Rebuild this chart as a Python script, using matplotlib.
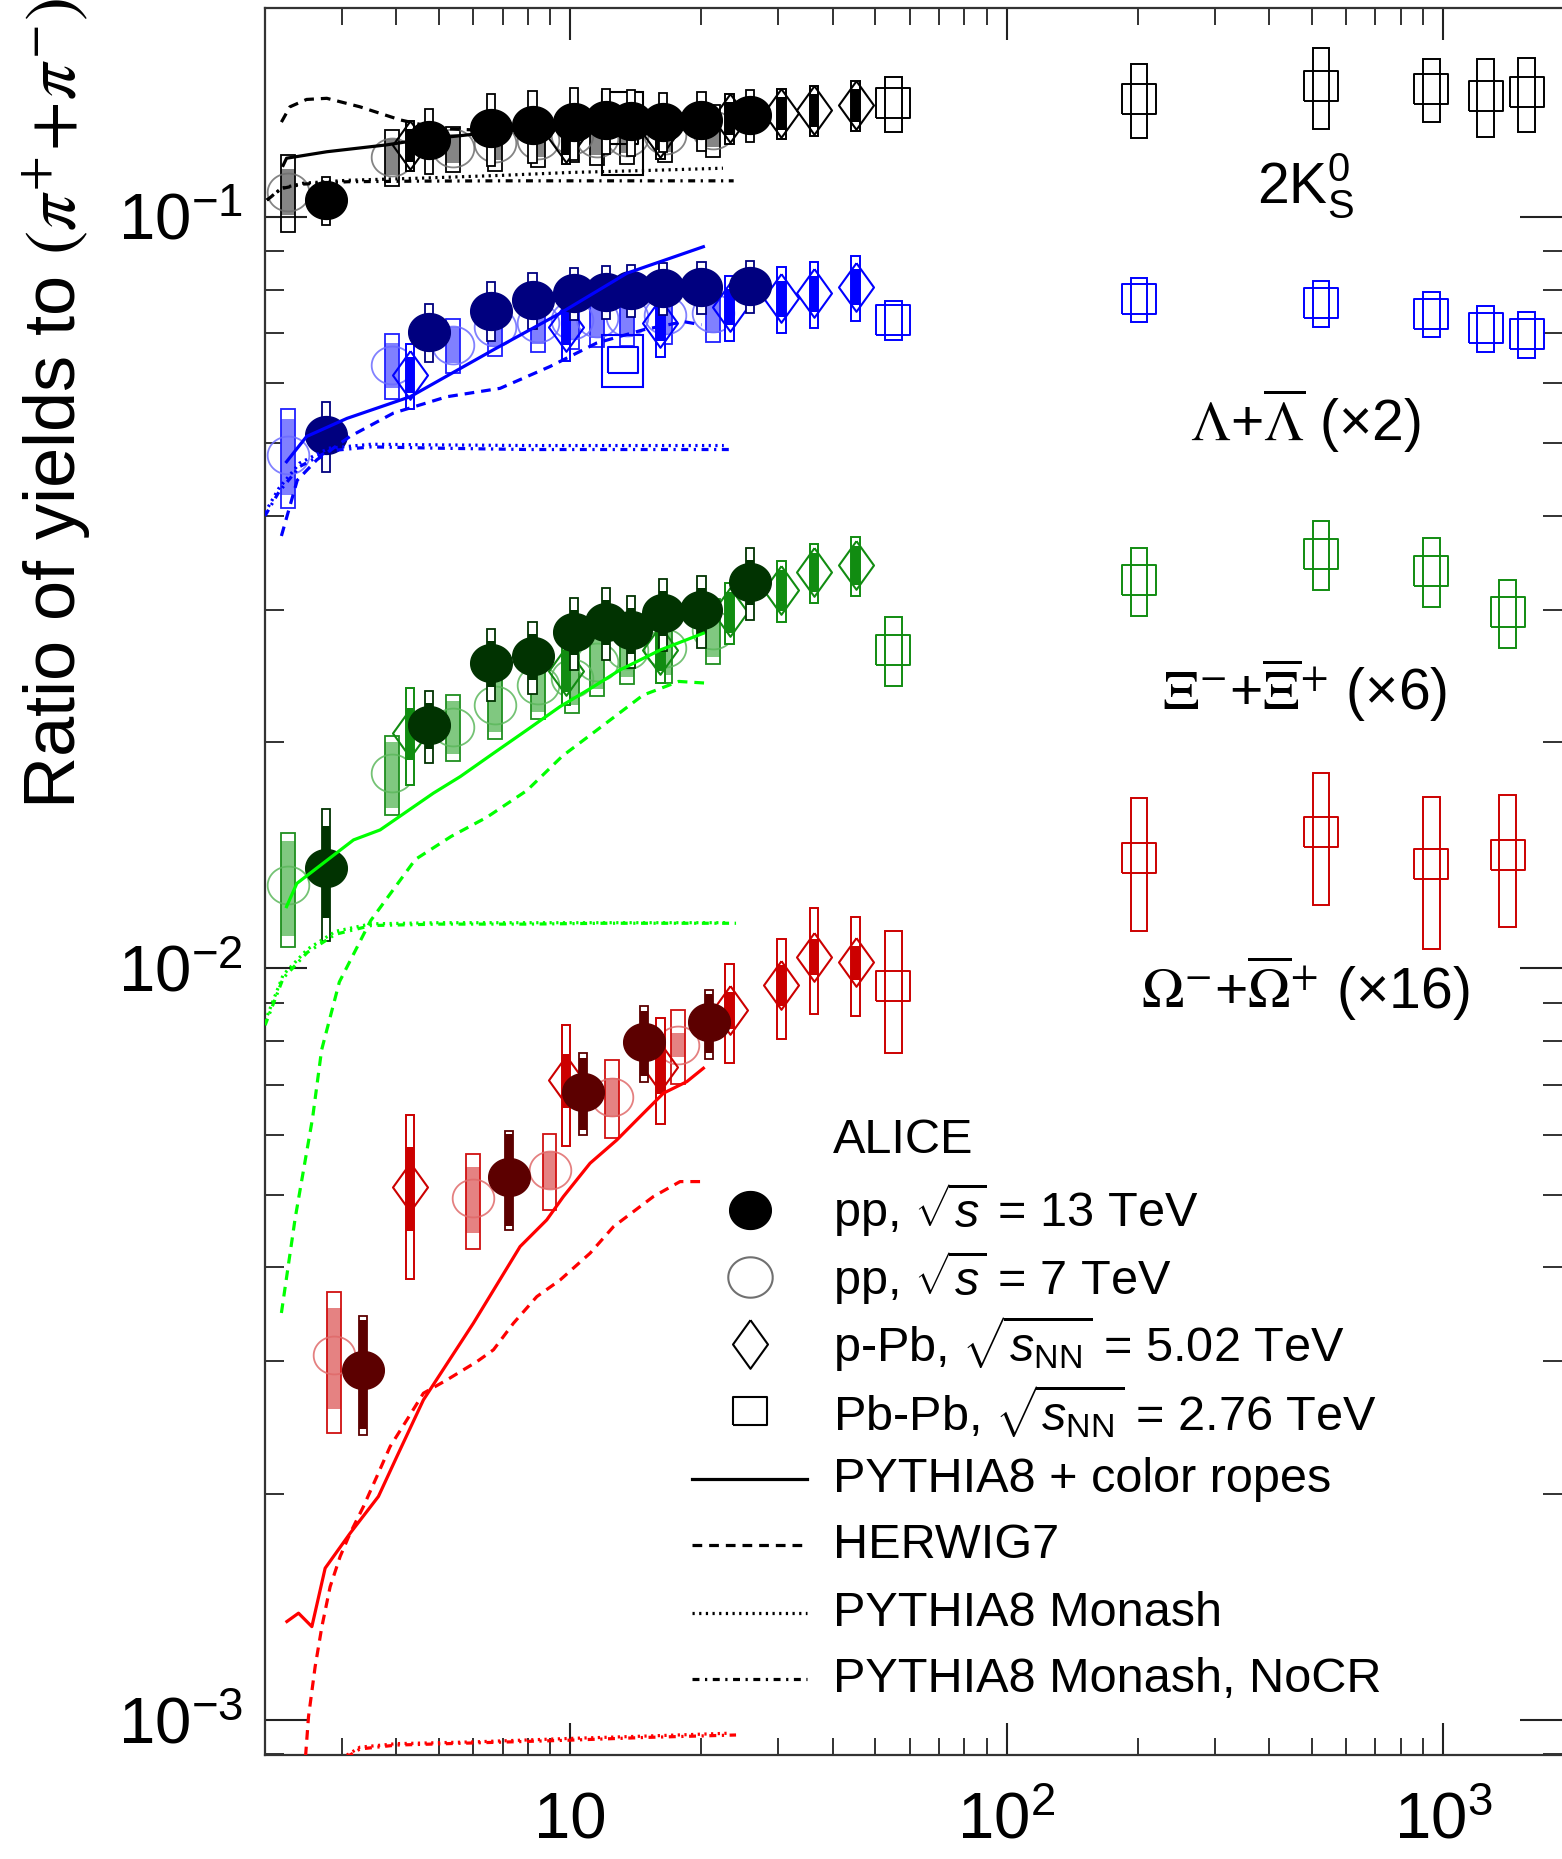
import numpy as np
import matplotlib
matplotlib.use('Agg')
import matplotlib.pyplot as plt
from matplotlib.patches import Rectangle
from matplotlib.path import Path
from matplotlib.ticker import FixedLocator, LogLocator, NullFormatter

plt.rcParams['font.family'] = ['Liberation Sans', 'DejaVu Sans']
plt.rcParams['mathtext.fontset'] = 'custom'
plt.rcParams['mathtext.rm'] = 'Liberation Sans'
plt.rcParams['mathtext.it'] = 'Liberation Sans:italic'
plt.rcParams['mathtext.bf'] = 'Liberation Sans:bold'
plt.rcParams['lines.scale_dashes'] = False

# ---------------- multiplicities <dNch/deta> ----------------
pp13_x = [2.76, 4.75, 6.58, 8.2, 10.2, 12.1, 13.8, 16.3, 20.0, 25.8]
pp7_x = [2.26, 3.90, 5.40, 6.72, 8.45, 10.1, 11.5, 13.5, 16.5, 21.3]
omega_pp13_x = [3.36, 7.26, 10.7, 14.8, 20.8]
omega_pp7_x = [2.88, 6.0, 8.97, 12.5, 17.7]
ppb_x = [4.3, 9.8, 16.1, 23.2, 30.5, 36.2, 45.1]
pbpb6_x = [55, 201, 525, 940, 1253, 1556]
pbpb5_x = [55, 201, 525, 940, 1406]
bigbox_x = [13.2]

# ---------------- 2K0S / (pi+ + pi-) ----------------
k0s_pp13 = [0.1052, 0.1265, 0.1311, 0.1324, 0.1338, 0.1345, 0.134, 0.1338, 0.1345, 0.1366]
k0s_pp13_sys = [0.074, 0.10, 0.11, 0.11, 0.11, 0.10, 0.10, 0.09, 0.09, 0.08]
k0s_pp13_unc = [0.04] * 10
k0s_pp7 = [0.108, 0.1202, 0.1233, 0.1252, 0.1265, 0.1284, 0.1272, 0.1278, 0.1284, 0.1304]
k0s_pp7_sys = [0.117, 0.085, 0.069, 0.08, 0.08, 0.08, 0.08, 0.08, 0.08, 0.08]
k0s_pp7_unc = [0.07, 0.055, 0.045, 0.05, 0.05, 0.05, 0.05, 0.05, 0.05, 0.05]
k0s_ppb = [0.1246, 0.1273, 0.1292, 0.1352, 0.1373, 0.1387, 0.1408]
k0s_ppb_sys = [0.077] * 7
k0s_ppb_unc = [0.05] * 7
k0s_pbpb = [0.1415, 0.1434, 0.1492, 0.1477, 0.1449, 0.1463]
k0s_pbpb_sys = [0.083, 0.113, 0.123, 0.096, 0.12, 0.113]
k0s_big = [0.130]
k0s_big_sys = [0.126]

# ---------------- Lambda (x2) ----------------
lam_pp13 = [0.0512, 0.0703, 0.0750, 0.0775, 0.0791, 0.0795, 0.0799, 0.0803, 0.0807, 0.0809]
lam_pp13_sys = [0.107, 0.088, 0.09, 0.085, 0.08, 0.08, 0.08, 0.08, 0.08, 0.08]
lam_pp13_unc = [0.05] * 10
lam_pp7 = [0.0482, 0.0635, 0.0675, 0.0714, 0.0721, 0.0729, 0.0733, 0.0736, 0.074, 0.0744]
lam_pp7_sys = [0.15, 0.10, 0.083, 0.085, 0.085, 0.085, 0.085, 0.085, 0.085, 0.085]
lam_pp7_unc = [0.116, 0.069, 0.055, 0.06, 0.06, 0.06, 0.06, 0.06, 0.06, 0.06]
lam_ppb = [0.0616, 0.0714, 0.0722, 0.0759, 0.0779, 0.0791, 0.0807]
lam_ppb_sys = [0.10] * 7
lam_ppb_unc = [0.055] * 7
lam_pbpb = [0.0729, 0.0776, 0.0768, 0.0743, 0.071, 0.0697]
lam_pbpb_sys = [0.06, 0.068, 0.07, 0.07, 0.07, 0.07]
lam_big = [0.0645]
lam_big_sys = [0.08]

# ---------------- Xi (x6) ----------------
xi_pp13 = [0.01358, 0.02108, 0.02546, 0.026, 0.02805, 0.02892, 0.0282, 0.02973, 0.02998, 0.03269]
xi_pp13_sys = [0.20, 0.11, 0.11, 0.11, 0.11, 0.11, 0.11, 0.11, 0.11, 0.11]
xi_pp13_unc = [0.14, 0.07, 0.07, 0.07, 0.07, 0.07, 0.07, 0.07, 0.07, 0.07]
xi_pp7 = [0.01291, 0.01817, 0.02097, 0.0224, 0.02382, 0.02432, 0.02559, 0.02652, 0.02666, 0.0282]
xi_pp7_sys = [0.174, 0.12, 0.10, 0.10, 0.10, 0.10, 0.10, 0.10, 0.10, 0.10]
xi_pp7_unc = [0.144, 0.10, 0.08, 0.08, 0.08, 0.08, 0.08, 0.08, 0.08, 0.08]
xi_ppb = [0.02055, 0.0249, 0.02652, 0.02982, 0.03187, 0.0337, 0.0344]
xi_ppb_sys = [0.148, 0.10, 0.095, 0.093, 0.093, 0.09, 0.09]
xi_ppb_unc = [0.08, 0.065, 0.063, 0.063, 0.063, 0.06, 0.06]
xi_pbpb = [0.02652, 0.03283, 0.03563, 0.0338, 0.02977]
xi_pbpb_sys = [0.105, 0.105, 0.105, 0.106, 0.105]

# ---------------- Omega (x16) ----------------
om_pp13 = [0.002922, 0.005283, 0.006855, 0.007988, 0.008471]
om_pp13_sys = [0.18, 0.15, 0.124, 0.116, 0.106]
om_pp13_unc = [0.165, 0.14, 0.11, 0.10, 0.09]
om_pp7 = [0.00306, 0.004945, 0.005392, 0.006751, 0.007907]
om_pp7_sys = [0.214, 0.145, 0.116, 0.12, 0.113]
om_pp7_unc = [0.154, 0.10, 0.057, 0.06, 0.037]
om_ppb = [0.005124, 0.0071, 0.0074, 0.0088, 0.0095, 0.01036, 0.01018]
om_ppb_sys = [0.246, 0.183, 0.16, 0.15, 0.153, 0.16, 0.15]
om_ppb_unc = [0.128, 0.082, 0.08, 0.057, 0.063, 0.055, 0.053]
om_pbpb = [0.00946, 0.01403, 0.01517, 0.01376, 0.01417]
om_pbpb_sys = [0.184, 0.20, 0.20, 0.23, 0.20]

# ---------------- model curves ----------------
k0s_rope_x = [2.2, 2.24, 2.77, 3.8, 4.5, 5.5, 7, 9, 12, 16, 20.2]
k0s_rope_y = [0.117, 0.1196, 0.122, 0.1246, 0.1265, 0.128, 0.130, 0.1315, 0.133, 0.134, 0.135]
k0s_herwig_x = [2.18, 2.28, 2.49, 2.77, 3.3, 4.08, 5, 7, 10, 14, 20.2]
k0s_herwig_y = [0.1336, 0.140, 0.1432, 0.1437, 0.140, 0.1345, 0.131, 0.130, 0.131, 0.132, 0.133]
k0s_monash_x = [2.02, 2.18, 2.45, 3.1, 4.5, 7, 10, 15, 22.4]
k0s_monash_y = [0.1052, 0.1091, 0.1108, 0.1118, 0.1125, 0.1135, 0.1145, 0.1152, 0.116]
k0s_nocr_x = [2.02, 2.18, 2.45, 3.1, 4.5, 7, 10, 15, 23.7]
k0s_nocr_y = [0.1052, 0.109, 0.1105, 0.1113, 0.1115, 0.1116, 0.1116, 0.1116, 0.1116]

lam_rope_x = [2.24, 2.49, 3.08, 4.30, 6.67, 9.49, 13.5, 20.2]
lam_rope_y = [0.0472, 0.051, 0.0539, 0.0576, 0.0665, 0.0744, 0.0841, 0.0912]
lam_herwig_x = [2.18, 2.37, 2.63, 3.13, 3.94, 5.22, 6.91, 9.0, 11.5, 14.7, 18.2, 20.0]
lam_herwig_y = [0.0376, 0.0446, 0.0475, 0.0510, 0.0548, 0.0576, 0.0591, 0.0632, 0.0679, 0.0707, 0.0725, 0.0718]
lam_monash_x = [2.0, 2.15, 2.4, 2.8, 3.5, 5, 8, 12, 22.5]
lam_monash_y = [0.0404, 0.0435, 0.047, 0.0492, 0.0498, 0.0497, 0.0496, 0.0496, 0.0496]
lam_nocr_x = [2.0, 2.15, 2.4, 2.8, 3.5, 5, 8, 12, 23.7]
lam_nocr_y = [0.040, 0.043, 0.0465, 0.0488, 0.0494, 0.0492, 0.049, 0.049, 0.049]

xi_rope_x = [2.24, 2.365, 3.19, 3.67, 4.86, 5.6, 6.67, 7.96, 9.49, 11.3, 13.0, 16.1, 20.2]
xi_rope_y = [0.01208, 0.01297, 0.01482, 0.01528, 0.0171, 0.01799, 0.01932, 0.02075, 0.0223,
             0.02369, 0.02494, 0.02652, 0.02791]
xi_herwig_x = [2.18, 2.345, 2.57, 2.695, 2.96, 3.49, 4.42, 5.34, 6.44, 7.96, 9.61, 11.88, 14.69, 17.74, 20.9]
xi_herwig_y = [0.003479, 0.004656, 0.006324, 0.007787, 0.009592, 0.01157, 0.01396, 0.01498, 0.01588,
               0.01724, 0.01917, 0.02103, 0.02309, 0.02408, 0.02394]
xi_monash_x = [2.0, 2.2, 2.5, 2.9, 3.5, 5, 8, 12, 22.9]
xi_monash_y = [0.0085, 0.0098, 0.0106, 0.0112, 0.01146, 0.0115, 0.0115, 0.0115, 0.0115]
xi_nocr_x = [2.0, 2.2, 2.5, 2.9, 3.5, 5, 8, 12, 24.0]
xi_nocr_y = [0.0084, 0.0097, 0.0105, 0.0111, 0.0114, 0.01145, 0.01145, 0.01148, 0.01148]

om_rope_x = [2.244, 2.386, 2.56, 2.746, 3.133, 3.637, 4.009, 4.612, 6.003, 7.68, 8.84, 9.65,
             11.11, 12.79, 14.21, 16.36, 18.51, 20.2]
om_rope_y = [0.001352, 0.001387, 0.001331, 0.001592, 0.001772, 0.001983, 0.002241, 0.002666,
             0.003372, 0.004264, 0.004627, 0.004969, 0.005504, 0.005909, 0.006284, 0.006821,
             0.007067, 0.007363]
om_herwig_x = [2.46, 2.515, 2.605, 2.699, 2.819, 2.972, 3.133, 3.361, 3.607, 3.869, 4.226, 4.612,
               5.219, 6.113, 6.674, 7.417, 8.389, 9.486, 11.11, 12.57, 15.51, 17.86, 20.39]
om_herwig_y = [0.00085, 0.00101, 0.001178, 0.001331, 0.001504, 0.00165, 0.001772, 0.001923,
               0.002108, 0.002311, 0.002507, 0.002721, 0.002834, 0.002997, 0.003108, 0.003372,
               0.003658, 0.003849, 0.004178, 0.004532, 0.004969, 0.005203, 0.005203]
om_monash_x = [3.08, 3.3, 4, 6, 10, 15, 22.9]
om_monash_y = [0.000898, 0.00092, 0.00093, 0.000935, 0.000945, 0.000952, 0.00096]
om_nocr_x = [3.08, 3.3, 4, 6, 10, 15, 24.0]
om_nocr_y = [0.000893, 0.000915, 0.000926, 0.000932, 0.00094, 0.000948, 0.000955]

# ---------------- markers ----------------
t = np.linspace(0, 2 * np.pi, 73)
ellipse = Path(np.column_stack([1.1 * np.cos(t), np.sin(t)]))
diamond = Path([(0, 1), (0.72, 0), (0, -1), (-0.72, 0), (0, 1)])
square = Path([(-1.17, -1), (1.17, -1), (1.17, 1), (-1.17, 1), (-1.17, -1)])

dashed = (0, (7, 5))
dotted = (0, (1.6, 3.2))
dashdot = (0, (5, 4, 1.6, 4))

fig = plt.figure(figsize=(15.62, 18.59), dpi=100)
ax = fig.add_axes([0.1697, 0.0559, 0.8303, 0.9398])
ax.set_xscale('log')
ax.set_yscale('log')
ax.set_xlim(2.0, 1874)
ax.set_ylim(8.98e-4, 0.1895)


def boxes(x, y, rel, half_dec, edge, face, lw, z):
    for xi, yi, ri in zip(x, y, rel):
        lo, hi = xi / 10 ** half_dec, xi * 10 ** half_dec
        ax.add_patch(Rectangle((lo, yi * (1 - ri)), hi - lo, 2 * yi * ri,
                               facecolor=face, edgecolor=edge, linewidth=lw, zorder=z))


species = [
    dict(x13=pp13_x, y13=k0s_pp13, s13=k0s_pp13_sys, u13=k0s_pp13_unc,
         x7=pp7_x, y7=k0s_pp7, s7=k0s_pp7_sys, u7=k0s_pp7_unc,
         yb=k0s_ppb, sb=k0s_ppb_sys, ub=k0s_ppb_unc,
         xa=pbpb6_x, ya=k0s_pbpb, sa=k0s_pbpb_sys,
         c13='#000000', c7='#6e6e6e', f7='#858585', e7='#000000', cb='#000000', cl='#000000',
         models=[(k0s_rope_x, k0s_rope_y), (k0s_herwig_x, k0s_herwig_y),
                 (k0s_monash_x, k0s_monash_y), (k0s_nocr_x, k0s_nocr_y)]),
    dict(x13=pp13_x, y13=lam_pp13, s13=lam_pp13_sys, u13=lam_pp13_unc,
         x7=pp7_x, y7=lam_pp7, s7=lam_pp7_sys, u7=lam_pp7_unc,
         yb=lam_ppb, sb=lam_ppb_sys, ub=lam_ppb_unc,
         xa=pbpb6_x, ya=lam_pbpb, sa=lam_pbpb_sys,
         c13='#00007f', c7='#6b6bff', f7='#8080ff', e7='#2020ff', cb='#0000ff', cl='#0000ff',
         models=[(lam_rope_x, lam_rope_y), (lam_herwig_x, lam_herwig_y),
                 (lam_monash_x, lam_monash_y), (lam_nocr_x, lam_nocr_y)]),
    dict(x13=pp13_x, y13=xi_pp13, s13=xi_pp13_sys, u13=xi_pp13_unc,
         x7=pp7_x, y7=xi_pp7, s7=xi_pp7_sys, u7=xi_pp7_unc,
         yb=xi_ppb, sb=xi_ppb_sys, ub=xi_ppb_unc,
         xa=pbpb5_x, ya=xi_pbpb, sa=xi_pbpb_sys,
         c13='#013301', c7='#5cb85c', f7='#80c880', e7='#1f8f1f', cb='#118c11', cl='#00ff00',
         models=[(xi_rope_x, xi_rope_y), (xi_herwig_x, xi_herwig_y),
                 (xi_monash_x, xi_monash_y), (xi_nocr_x, xi_nocr_y)]),
    dict(x13=omega_pp13_x, y13=om_pp13, s13=om_pp13_sys, u13=om_pp13_unc,
         x7=omega_pp7_x, y7=om_pp7, s7=om_pp7_sys, u7=om_pp7_unc,
         yb=om_ppb, sb=om_ppb_sys, ub=om_ppb_unc,
         xa=pbpb5_x, ya=om_pbpb, sa=om_pbpb_sys,
         c13='#5c0000', c7='#e06a6a', f7='#e58282', e7='#d01010', cb='#cc0000', cl='#ff0000',
         models=[(om_rope_x, om_rope_y), (om_herwig_x, om_herwig_y),
                 (om_monash_x, om_monash_y), (om_nocr_x, om_nocr_y)]),
]

for sp in species:
    # pp 7 TeV: open circles, shaded uncorrelated box, open total box
    boxes(sp['x7'], sp['y7'], sp['u7'], 0.016, 'none', sp['f7'], 0, 1.9)
    boxes(sp['x7'], sp['y7'], sp['s7'], 0.016, sp['e7'], 'none', 1.3, 2.0)
    ax.plot(sp['x7'], sp['y7'], ls='none', marker=ellipse, ms=30, mfc='none',
            mec=sp['c7'], mew=1.3, alpha=0.85, zorder=2.1)
    # p-Pb
    boxes(ppb_x, sp['yb'], sp['sb'], 0.0095, sp['cb'], 'white', 1.4, 3.0)
    boxes(ppb_x, sp['yb'], sp['ub'], 0.0095, 'none', sp['cb'], 0, 3.05)
    ax.plot(ppb_x, sp['yb'], ls='none', marker=diamond, ms=35, mfc='none',
            mec=sp['cb'], mew=1.5, zorder=3.1)
    # Pb-Pb
    boxes(sp['xa'], sp['ya'], sp['sa'], 0.019, sp['cb'], 'none', 1.4, 3.0)
    ax.plot(sp['xa'], sp['ya'], ls='none', marker=square, ms=25, mfc='none',
            mec=sp['cb'], mew=1.4, zorder=3.1)
    # pp 13 TeV
    boxes(sp['x13'], sp['y13'], sp['s13'], 0.0092, sp['c13'], 'white', 1.3, 4.0)
    boxes(sp['x13'], sp['y13'], sp['u13'], 0.0092, 'none', sp['c13'], 0, 4.05)
    ax.plot(sp['x13'], sp['y13'], ls='none', marker=ellipse, ms=30, mfc=sp['c13'],
            mec=sp['c13'], mew=1.0, zorder=4.2)
    # models
    for (mx, my), ls in zip(sp['models'], ['-', dashed, dotted, dashdot]):
        ax.plot(mx, my, color=sp['cl'], lw=2.3, ls=ls, zorder=5)

# large open boxes near dN/deta ~ 13
for by, bs, col in [(k0s_big, k0s_big_sys, '#000000'), (lam_big, lam_big_sys, '#0000ff')]:
    boxes(bigbox_x, by, bs, 0.0465, col, 'none', 1.5, 3.0)
    ax.plot(bigbox_x, by, ls='none', marker=square, ms=22, mfc='none', mec=col,
            mew=1.5, zorder=3.1)

# ---------------- axes styling ----------------
for side in ['left', 'bottom', 'top']:
    ax.spines[side].set_linewidth(1.6)
    ax.spines[side].set_color('#333333')
ax.spines['right'].set_visible(False)

ax.xaxis.set_major_locator(FixedLocator([10, 100, 1000]))
ax.xaxis.set_minor_locator(LogLocator(base=10, subs=np.arange(2, 10), numticks=100))
ax.xaxis.set_minor_formatter(NullFormatter())
ax.set_xticklabels(['10', r'$10^{2}$', r'$10^{3}$'])
ax.yaxis.set_major_locator(FixedLocator([1e-3, 1e-2, 1e-1]))
ax.yaxis.set_minor_locator(LogLocator(base=10, subs=np.arange(2, 10), numticks=100))
ax.yaxis.set_minor_formatter(NullFormatter())
ax.set_yticklabels([r'$10^{-3}$', r'$10^{-2}$', r'$10^{-1}$'])

ax.tick_params(which='both', direction='in', top=True, right=True, color='#222222')
ax.tick_params(axis='x', which='major', length=23, width=1.5, labelsize=47, pad=60)
ax.tick_params(axis='x', which='minor', length=12, width=1.3)
ax.tick_params(axis='y', which='major', length=30, width=1.5, labelsize=47, pad=16)
ax.tick_params(axis='y', which='minor', length=14, width=1.3)
for lbl in ax.get_xticklabels():
    lbl.set_verticalalignment('baseline')

# ---------------- labels ----------------
fig.text(0.0365, 0.7830, r'Ratio of yields to $\left(\pi^{+}\!+\!\pi^{-}\right)$',
         rotation=90, ha='center', va='center', fontsize=52, math_fontfamily='stix')

lab_kw = dict(transform=ax.transAxes, ha='center', va='center', fontsize=41, zorder=6)
ax.text(0.8019, 0.8981, r'2$\mathrm{K}^{0}_{\mathrm{S}}$', **lab_kw)
ax.text(0.8019, 0.7636, r'$\Lambda$+$\overline{\Lambda}$ (×2)', math_fontfamily='stix', **lab_kw)
ax.text(0.8019, 0.6096, r'$\Xi^{-}$+$\overline{\Xi}^{+}$ (×6)', math_fontfamily='stix', **lab_kw)
ax.text(0.8019, 0.4390, r'$\Omega^{-}$+$\overline{\Omega}^{+}$ (×16)', math_fontfamily='stix', **lab_kw)

# ---------------- legend ----------------
leg_mx = 0.3736
leg_tx = 0.4376
leg_rows = [0.3121, 0.2734, 0.2354, 0.1967, 0.158, 0.120, 0.0813, 0.0433]
leg_text = ['pp, $\\sqrt{s}$ = 13 TeV', 'pp, $\\sqrt{s}$ = 7 TeV',
            'p-Pb, $\\sqrt{s_{\\mathrm{NN}}}$ = 5.02 TeV', 'Pb-Pb, $\\sqrt{s_{\\mathrm{NN}}}$ = 2.76 TeV',
            'PYTHIA8 + color ropes', 'HERWIG7', 'PYTHIA8 Monash', 'PYTHIA8 Monash, NoCR']
ax.text(leg_tx, 0.3515, 'ALICE', transform=ax.transAxes, ha='left', va='center', fontsize=35)
mk = [dict(marker=ellipse, ms=30, mfc='k', mec='k'),
      dict(marker=ellipse, ms=32, mfc='none', mec='#707070', mew=1.5),
      dict(marker=diamond, ms=35, mfc='none', mec='k', mew=1.5),
      dict(marker=square, ms=24, mfc='none', mec='k', mew=1.5)]
for yy, kw in zip(leg_rows[:4], mk):
    ax.plot([leg_mx], [yy], ls='none', transform=ax.transAxes, clip_on=False, **kw)
for yy, ls in zip(leg_rows[4:], ['-', dashed, dotted, dashdot]):
    ax.plot([0.3288, 0.4175], [yy, yy], color='k', lw=2.3, ls=ls, transform=ax.transAxes)
for yy, txt in zip(leg_rows, leg_text):
    ax.text(leg_tx, yy, txt, transform=ax.transAxes, ha='left', va='center', fontsize=35)

fig.savefig('out.png', dpi=100)
